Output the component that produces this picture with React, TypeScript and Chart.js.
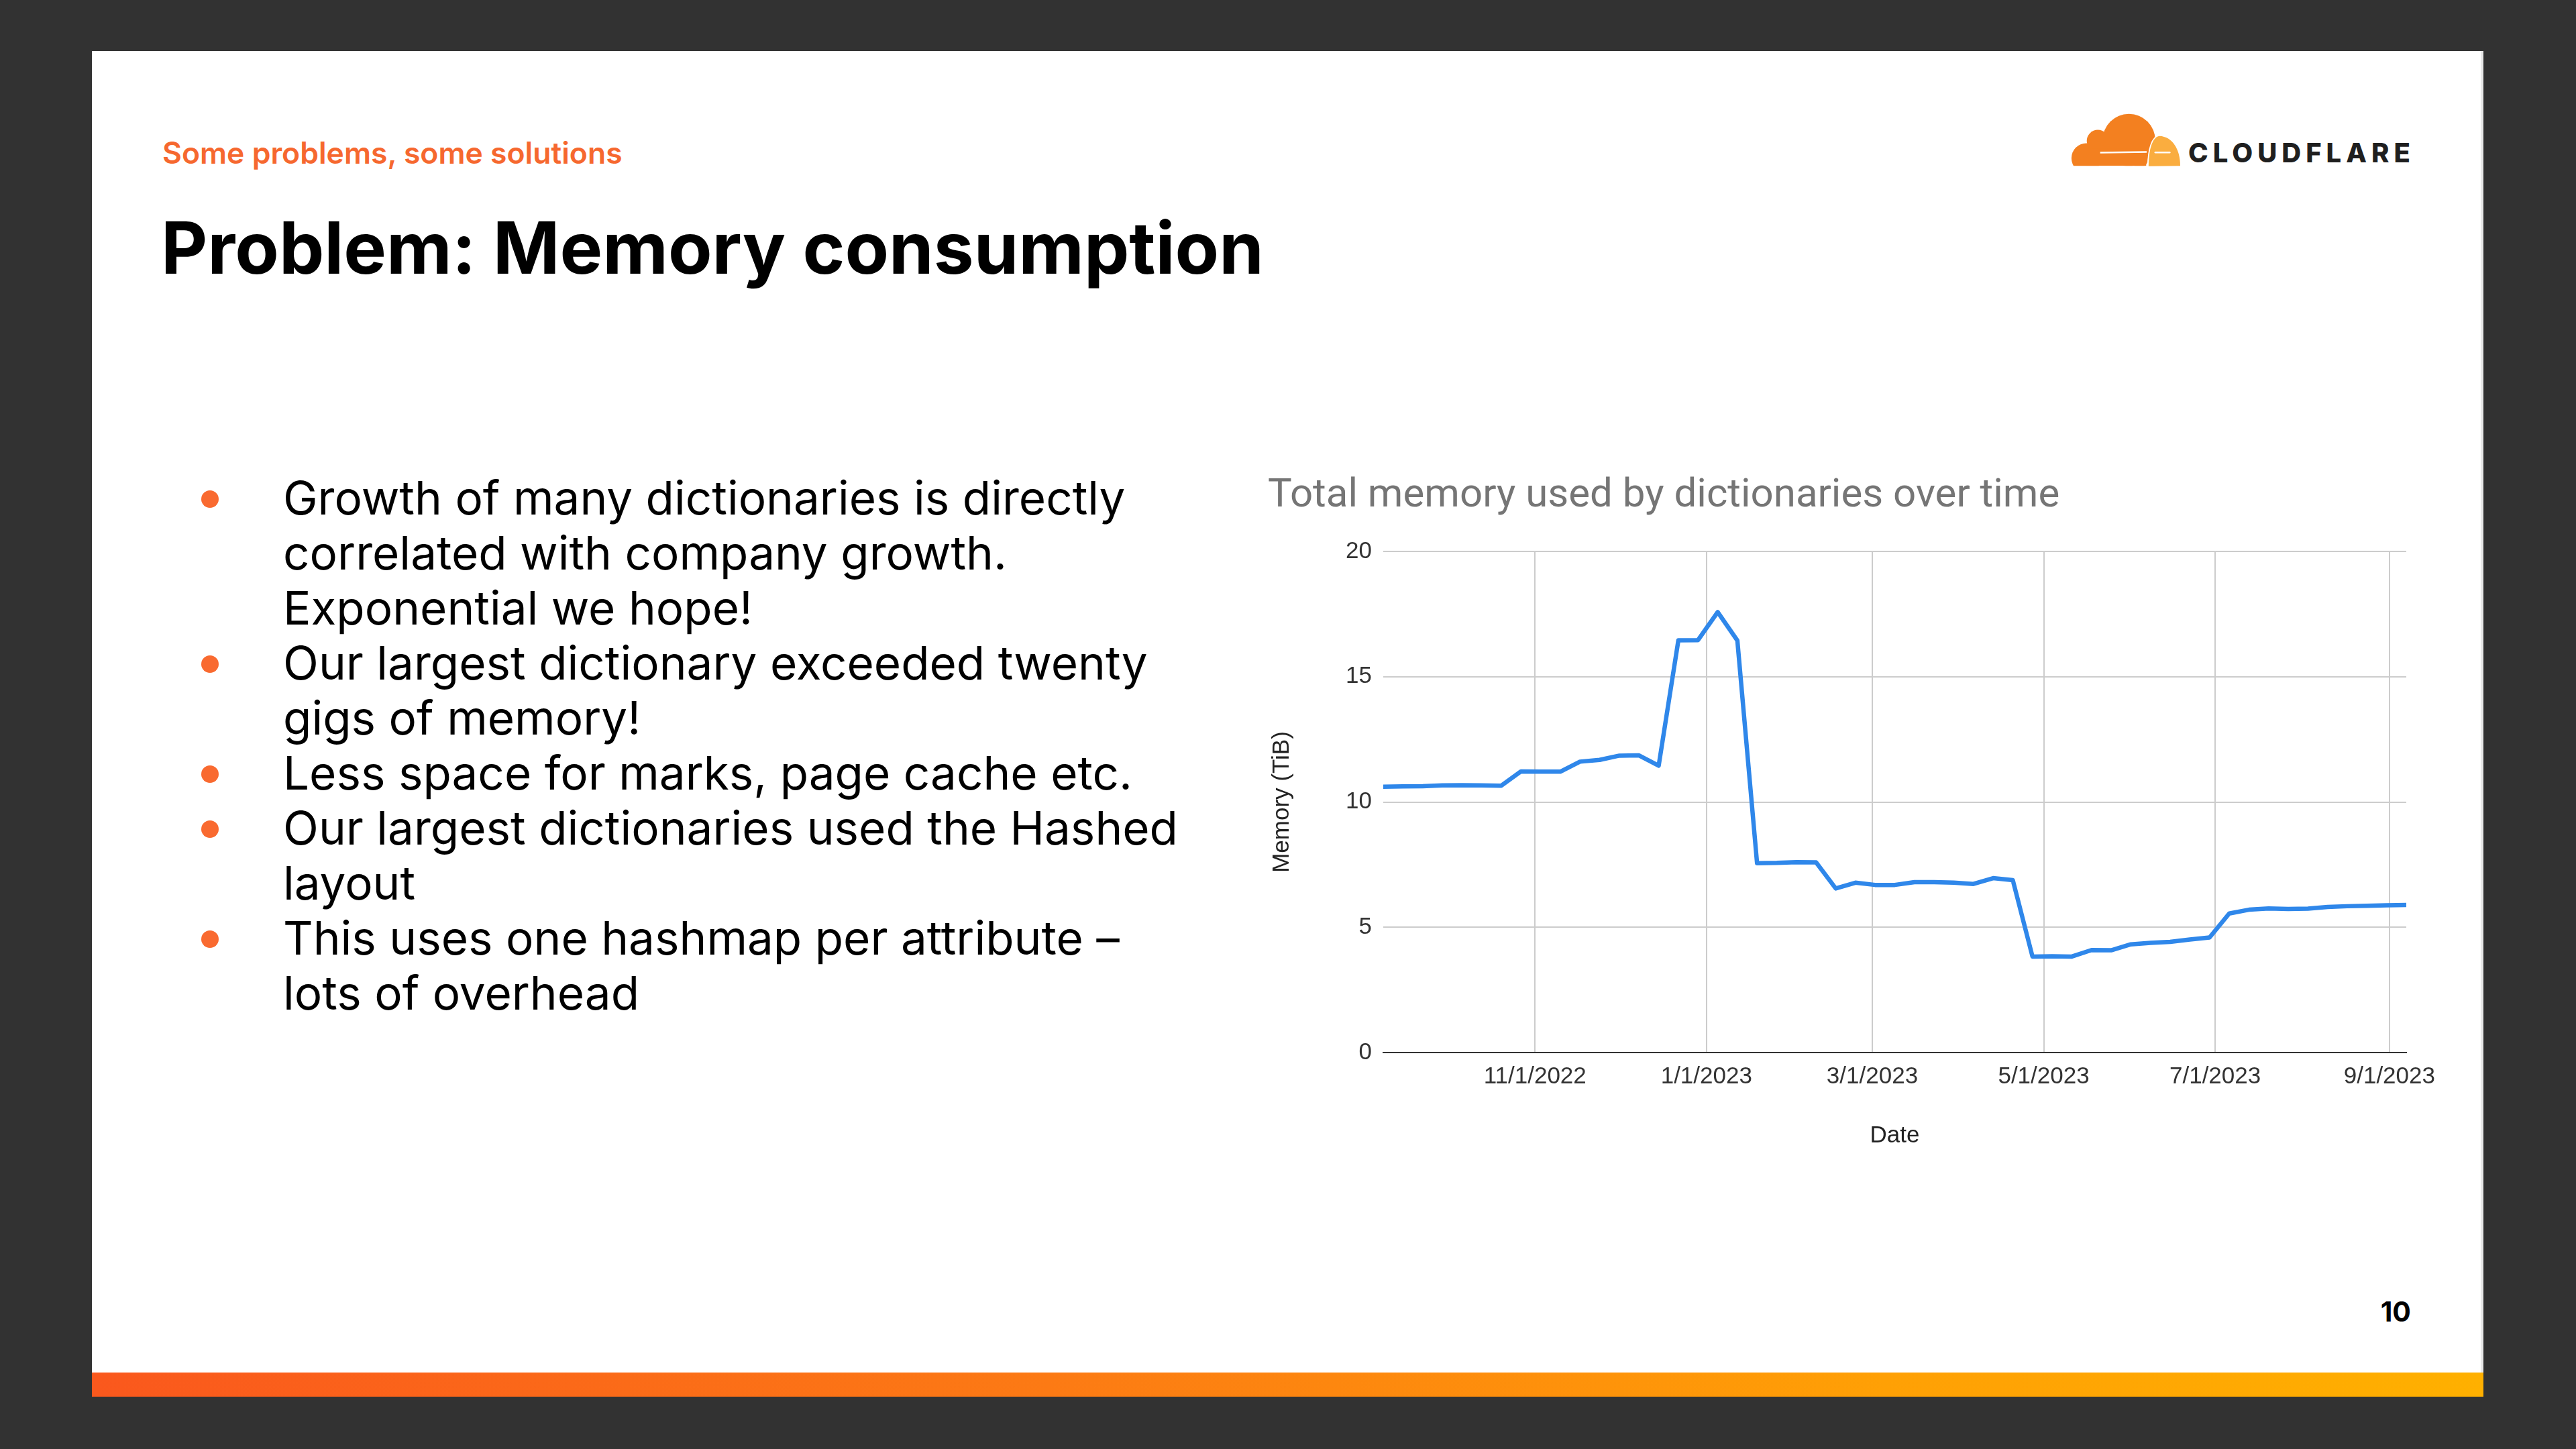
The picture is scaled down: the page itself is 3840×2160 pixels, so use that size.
import React, { useEffect, useRef } from "react";
import { Chart, registerables } from "chart.js";

Chart.register(...registerables);

// ---- data ----
const dates = [
  "2022-09-08", "2022-09-15", "2022-09-22", "2022-09-29", "2022-10-06", "2022-10-13", "2022-10-20",
  "2022-10-27", "2022-11-03", "2022-11-10", "2022-11-17", "2022-11-24", "2022-12-01", "2022-12-08",
  "2022-12-15", "2022-12-22", "2022-12-29", "2023-01-05", "2023-01-12", "2023-01-19", "2023-01-26",
  "2023-02-02", "2023-02-09", "2023-02-16", "2023-02-23", "2023-03-02", "2023-03-09", "2023-03-16",
  "2023-03-23", "2023-03-30", "2023-04-06", "2023-04-13", "2023-04-20", "2023-04-27", "2023-05-04",
  "2023-05-11", "2023-05-18", "2023-05-25", "2023-06-01", "2023-06-08", "2023-06-15", "2023-06-22",
  "2023-06-29", "2023-07-06", "2023-07-13", "2023-07-20", "2023-07-27", "2023-08-03", "2023-08-10",
  "2023-08-17", "2023-08-24", "2023-08-31", "2023-09-07",
];

const memoryTiB = [
  10.61, 10.62, 10.63, 10.66, 10.67, 10.66, 10.65,
  11.22, 11.21, 11.21, 11.61, 11.68, 11.85, 11.86,
  11.45, 16.45, 16.46, 17.58, 16.44, 7.56, 7.57,
  7.6, 7.59, 6.55, 6.78, 6.69, 6.69, 6.8,
  6.8, 6.78, 6.73, 6.96, 6.88, 3.83, 3.84,
  3.83, 4.09, 4.08, 4.32, 4.38, 4.42, 4.51,
  4.59, 5.55, 5.7, 5.75, 5.73, 5.74, 5.81,
  5.84, 5.86, 5.88, 5.89,
];

const xTickDates = ["2022-11-01", "2023-01-01", "2023-03-01", "2023-05-01", "2023-07-01", "2023-09-01"];
const yTickValues = [0, 5, 10, 15, 20];

const chartTitle = "Total memory used by dictionaries over time";
const xAxisTitle = "Date";
const yAxisTitle = "Memory (TiB)";

const kicker = "Some problems, some solutions";
const slideTitle = "Problem: Memory consumption";
const bullets = [
  ["Growth of many dictionaries is directly", "correlated with company growth.", "Exponential we hope!"],
  ["Our largest dictionary exceeded twenty", "gigs of memory!"],
  ["Less space for marks, page cache etc."],
  ["Our largest dictionaries used the Hashed", "layout"],
  ["This uses one hashmap per attribute \u2013", "lots of overhead"],
];
const pageNumber = "10";

// ---- helpers ----
const DAY = 86400000;
const toDay = (s: string) => {
  const [y, m, d] = s.split("-").map(Number);
  return Date.UTC(y, m - 1, d) / DAY;
};
const fmtDay = (v: number) => {
  const dt = new Date(Math.round(v) * DAY);
  return `${dt.getUTCMonth() + 1}/${dt.getUTCDate()}/${dt.getUTCFullYear()}`;
};

const tickFont = { family: "'Liberation Sans', Arial, sans-serif", size: 35 };

function MemoryChart() {
  const ref = useRef<HTMLCanvasElement | null>(null);
  useEffect(() => {
    if (!ref.current) return;
    const chart = new Chart(ref.current, {
      type: "line",
      data: {
        datasets: [
          {
            data: dates.map((d, i) => ({ x: toDay(d), y: memoryTiB[i] })),
            borderColor: "#2f87ea",
            backgroundColor: "#2f87ea",
            borderWidth: 6.5,
            pointRadius: 0,
            tension: 0,
            fill: false,
            borderJoinStyle: "round",
            borderCapStyle: "round",
          },
        ],
      },
      options: {
        animation: false,
        responsive: false,
        devicePixelRatio: 1,
        layout: { padding: { left: 13, right: 73, top: 0, bottom: 1 } },
        plugins: {
          legend: { display: false },
          tooltip: { enabled: false },
          title: {
            display: true,
            text: chartTitle,
            align: "start",
            color: "#757575",
            font: { family: "Roboto, sans-serif", size: 60, weight: "normal", lineHeight: 1.2 },
            padding: { top: 24, bottom: 46 },
          },
        },
        scales: {
          x: {
            type: "linear",
            min: toDay(dates[0]),
            max: toDay(dates[dates.length - 1]),
            bounds: "data",
            afterBuildTicks: (axis: any) => {
              axis.ticks = xTickDates.map((s) => ({ value: toDay(s) }));
            },
            afterFit: (axis: any) => {
              axis.height = 150;
            },
            ticks: {
              callback: (v: any) => fmtDay(Number(v)),
              font: tickFont,
              color: "#333333",
              padding: 15,
              maxRotation: 0,
              minRotation: 0,
              autoSkip: false,
            },
            grid: { color: "#cccccc", lineWidth: 2, drawTicks: false },
            border: { display: true, color: "#333333", width: 2 },
            title: {
              display: true,
              text: xAxisTitle,
              color: "#222222",
              font: tickFont,
              padding: { top: 0, bottom: 5 },
            },
          },
          y: {
            type: "linear",
            min: 0,
            max: 20,
            afterBuildTicks: (axis: any) => {
              axis.ticks = yTickValues.map((v) => ({ value: v }));
            },
            afterFit: (axis: any) => {
              axis.width = 172;
            },
            ticks: { font: tickFont, color: "#333333", padding: 17 },
            grid: {
              color: (c: any) => (c.tick && c.tick.value === 0 ? "rgba(0,0,0,0)" : "#cccccc"),
              lineWidth: 2,
              drawTicks: false,
            },
            border: { display: false },
            title: {
              display: true,
              text: yAxisTitle,
              color: "#222222",
              font: tickFont,
              padding: { top: 0, bottom: 0 },
            },
          },
        },
      },
    } as any);
    return () => chart.destroy();
  }, []);
  return (
    <canvas
      ref={ref}
      width={1783}
      height={1040}
      style={{ position: "absolute", left: 1877, top: 680, width: 1783, height: 1040, display: "block" }}
    />
  );
}

function Logo() {
  return (
    <>
      <svg
        viewBox="0 0 1568 308"
        width={560}
        height={110}
        style={{ position: "absolute", left: 3060, top: 150 }}
      >
        <defs>
          <clipPath id="cfclip">
            <rect x="0" y="0" width="1568" height="272" />
          </clipPath>
        </defs>
        <g clipPath="url(#cfclip)" fill="#f38020">
          <circle cx="140" cy="240" r="62" />
          <circle cx="188" cy="168" r="46" />
          <circle cx="318" cy="165" r="110" />
          <rect x="140" y="200" width="250" height="72" />
          <circle cx="362" cy="245" r="35" />
        </g>
        <path
          d="M400 274 C400 205 416 152 445 148 C500 150 532 205 532 272 Z"
          fill="#faad3f"
          stroke="#ffffff"
          strokeWidth="10"
          paintOrder="stroke"
        />
        <path d="M198 217 L392 214" stroke="#ffffff" strokeWidth="7" />
        <path d="M428 216 L488 216" stroke="#ffffff" strokeWidth="7" strokeLinecap="round" />
      </svg>
      <div
        style={{
          position: "absolute",
          left: 3262,
          top: 208,
          fontFamily: "Inter, sans-serif",
          fontWeight: 800,
          fontSize: 40,
          lineHeight: "40px",
          letterSpacing: 7,
          color: "#1f1f1f",
          whiteSpace: "nowrap",
        }}
      >
        CLOUDFLARE
      </div>
    </>
  );
}

export default function App() {
  return (
    <div
      style={{
        position: "fixed",
        left: 0,
        top: 0,
        width: 3840,
        height: 2160,
        background: "#323232",
        overflow: "hidden",
      }}
    >
      <div
        style={{
          position: "absolute",
          left: 137,
          top: 76,
          width: 3561,
          height: 2006,
          background: "#ffffff",
          borderRight: "4px solid #e9e9e9",
        }}
      />
      <div
        style={{
          position: "absolute",
          left: 137,
          top: 2046,
          width: 3565,
          height: 36,
          background: "linear-gradient(90deg, #fa581d 0%, #fc7a14 40%, #ffa005 75%, #ffb000 100%)",
        }}
      />
      <div
        style={{
          position: "absolute",
          left: 242,
          top: 206,
          fontFamily: "Inter, sans-serif",
          fontWeight: 600,
          fontSize: 44.5,
          lineHeight: "44.5px",
          color: "#f6682f",
          whiteSpace: "nowrap",
        }}
      >
        {kicker}
      </div>
      <div
        style={{
          position: "absolute",
          left: 240,
          top: 316,
          fontFamily: "Inter, sans-serif",
          fontWeight: 700,
          fontSize: 107,
          lineHeight: "107px",
          color: "#000000",
          whiteSpace: "nowrap",
        }}
      >
        {slideTitle}
      </div>
      <div
        style={{
          position: "absolute",
          left: 422,
          top: 701,
          fontFamily: "Inter, sans-serif",
          fontWeight: 400,
          fontSize: 69.2,
          lineHeight: "82px",
          color: "#000000",
          whiteSpace: "nowrap",
        }}
      >
        {bullets.map((lines, i) => (
          <div key={i} style={{ position: "relative" }}>
            <div
              style={{
                position: "absolute",
                left: 313 - 422 - 13,
                top: 41 - 13 + 2,
                width: 26,
                height: 26,
                borderRadius: 13,
                background: "#f96a30",
              }}
            />
            {lines.map((l, j) => (
              <div key={j}>{l}</div>
            ))}
          </div>
        ))}
      </div>
      <Logo />
      <div
        style={{
          position: "absolute",
          left: 3494,
          top: 1935,
          width: 100,
          textAlign: "right",
          fontFamily: "Inter, sans-serif",
          fontWeight: 700,
          fontSize: 41,
          lineHeight: "41px",
          color: "#000000",
        }}
      >
        {pageNumber}
      </div>
      <MemoryChart />
    </div>
  );
}
